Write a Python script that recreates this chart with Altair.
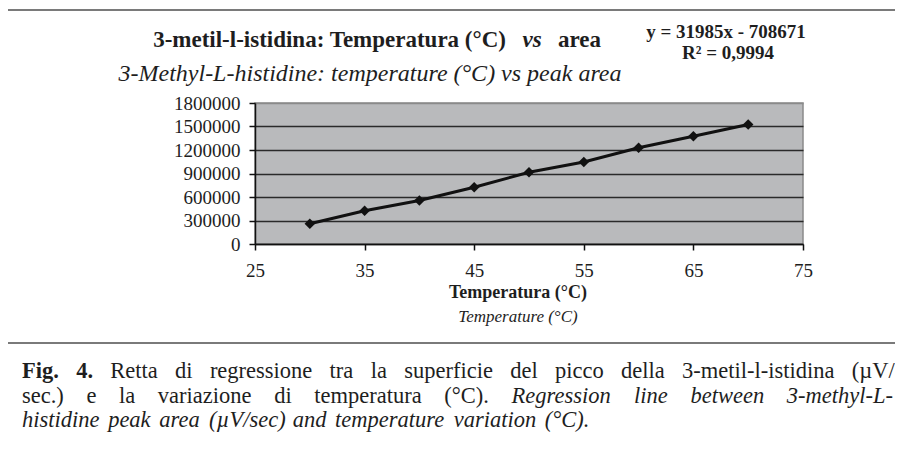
import altair as alt
import pandas as pd

# ---- data ----
temps = [30, 35, 40, 45, 50, 55, 60, 65, 70]
areas = [258000, 424000, 555000, 724000, 915000, 1046000, 1228000, 1376000, 1525000]
x_ticks = [25, 35, 45, 55, 65, 75]
y_ticks = [0, 300000, 600000, 900000, 1200000, 1500000, 1800000]

title_a = "3-metil-l-istidina: Temperatura (°C)"
title_vs = "vs"
title_b = "area"
subtitle = "3-Methyl-L-histidine: temperature (°C) vs peak area"
eq_line = "y = 31985x - 708671"
r2_line = "R² = 0,9994"
xtitle_it = "Temperatura (°C)"
xtitle_en = "Temperature (°C)"
cap1 = [("Fig.", "bold"), ("4.", "bold")] + [
    (w, "reg") for w in "Retta di regressione tra la superficie del picco della 3-metil-l-istidina (µV/".split()]
cap2 = [(w, "reg") for w in "sec.) e la variazione di temperatura (°C).".split()] + [
    (w, "it") for w in "Regression line between 3-methyl-L-".split()]
cap3 = [(w, "it") for w in "histidine peak area (µV/sec)  and temperature variation (°C).".split()]

df = pd.DataFrame({"t": temps, "a": areas})
one = pd.DataFrame({"k": [0]})

W, H = 548, 141
FONT = "Liberation Serif"
INK = "#1e1e1e"

# approximate Times glyph widths (per 1000 em) used only to justify the caption lines
REG = dict(zip("abcdefghijklmnopqrstuvwxyz",
               [444, 500, 444, 500, 444, 333, 500, 500, 278, 278, 500, 278, 778, 500, 500, 500, 500, 333, 389, 278, 500, 500, 722, 500, 500, 444]))
REG.update({".": 250, ",": 250, "-": 333, "(": 333, ")": 333, "/": 278, ":": 278, "µ": 500, "°": 400,
            "C": 667, "R": 667, "V": 722, "F": 556, "L": 611})
IT = dict(zip("abcdefghijklmnopqrstuvwxyz",
              [500, 500, 444, 500, 444, 278, 500, 500, 278, 278, 444, 278, 722, 500, 500, 500, 500, 389, 389, 278, 500, 444, 667, 444, 444, 389]))
IT.update({".": 250, ",": 250, "-": 333, "(": 333, ")": 333, "/": 278, "µ": 500, "°": 400,
           "C": 667, "R": 611, "V": 611, "L": 556})
BOLD = {"F": 611, "i": 278, "g": 500, ".": 250}
TABLES = {"reg": REG, "it": IT, "bold": BOLD}


def wwidth(word, kind, size):
    t = TABLES[kind]
    return sum(t.get(c, 500) for c in word) / 1000.0 * size


x = alt.X(
    "t:Q",
    scale=alt.Scale(domain=[25, 75], nice=False, zero=False),
    axis=alt.Axis(values=x_ticks, title=None, grid=False, labelFont=FONT,
                  labelFontSize=19, labelColor=INK, labelPadding=11, tickSize=6,
                  tickColor="#111", tickWidth=1.5, domainColor="#111",
                  domainWidth=1.5, labelFlush=False, labelOverlap=False),
)
y = alt.Y(
    "a:Q",
    scale=alt.Scale(domain=[0, 1800000], nice=False),
    axis=alt.Axis(values=y_ticks, format="d", title=None, grid=True,
                  gridColor={"condition": {"test": "datum.value >= 1800000", "value": "#8a8a8a"},
                             "value": "#2a2a2a"},
                  gridWidth=1.5, labelFont=FONT, labelFontSize=19, labelColor=INK,
                  labelPadding=9, tickSize=6, tickColor="#111", tickWidth=1.5,
                  domainColor="#111", domainWidth=1.5, labelOverlap=False),
)

base = alt.Chart(df).encode(x=x, y=y)
line = base.mark_line(color="#111", strokeWidth=3)
pts = base.mark_point(shape="diamond", filled=True, size=110, color="#111", opacity=1)


def txt(s, px, py, size, weight="normal", style="normal", align="center"):
    return alt.Chart(one).mark_text(
        text=s, font=FONT, fontSize=size, fontWeight=weight, fontStyle=style,
        align=align, baseline="middle", color=INK,
    ).encode(x=alt.value(px), y=alt.value(py))


# plot origin sits at page (255, 103); positions below are relative to it
OX, OY = 255, 103
texts = [
    txt(title_a, 506 - OX, 40 - OY, 23, weight="bold", align="right"),
    txt(title_vs, 532 - OX, 40 - OY, 23, weight="bold", style="italic"),
    txt(title_b, 558 - OX, 40 - OY, 23, weight="bold", align="left"),
    txt(eq_line, 726 - OX, 32 - OY, 19, weight="bold"),
    txt(r2_line, 728 - OX, 53 - OY, 19, weight="bold"),
    txt(subtitle, 370 - OX, 74 - OY, 24, style="italic"),
    txt(xtitle_it, 518 - OX, 293 - OY, 18, weight="bold"),
    txt(xtitle_en, 518 - OX, 317 - OY, 17, style="italic"),
]

CAP = 22.5
LEFT, RIGHT = 22, 893


def spread(words, py, right=None, extra=0.0):
    widths = [wwidth(w, k, CAP) for w, k in words]
    if right is None:
        gap = CAP * 0.25 + extra
    else:
        gap = (right - LEFT - sum(widths)) / (len(words) - 1)
    out = []
    pos = LEFT
    for (w, k), wd in zip(words, widths):
        out.append(txt(w, pos - OX, py - OY, CAP,
                       weight="bold" if k == "bold" else "normal",
                       style="italic" if k == "it" else "normal", align="left"))
        pos += wd + gap
    return out


texts += spread(cap1, 371, right=RIGHT)
texts += spread(cap2, 396, right=RIGHT)
texts += spread(cap3, 420, extra=3)

frame_col = "#7a7a7a"
rules = [
    alt.Chart(one).mark_rule(color=frame_col, strokeWidth=2).encode(
        x=alt.value(7 - OX), y=alt.value(10 - OY), y2=alt.value(460 - OY)),
    alt.Chart(one).mark_rule(color=frame_col, strokeWidth=2).encode(
        x=alt.value(7 - OX), x2=alt.value(900 - OX), y=alt.value(10 - OY)),
    alt.Chart(one).mark_rule(color=frame_col, strokeWidth=2).encode(
        x=alt.value(7 - OX), x2=alt.value(900 - OX), y=alt.value(343 - OY)),
]

chart = alt.layer(line, pts, *texts, *rules).properties(
    width=W, height=H, autosize="none",
    padding={"left": 247, "top": 95, "right": 92, "bottom": 190},
    background="white",
).configure_view(fill="#b9babc", stroke="#8a8a8a", strokeWidth=1.5)

chart.save("out.html", embed_options={"renderer": "svg", "actions": False})
